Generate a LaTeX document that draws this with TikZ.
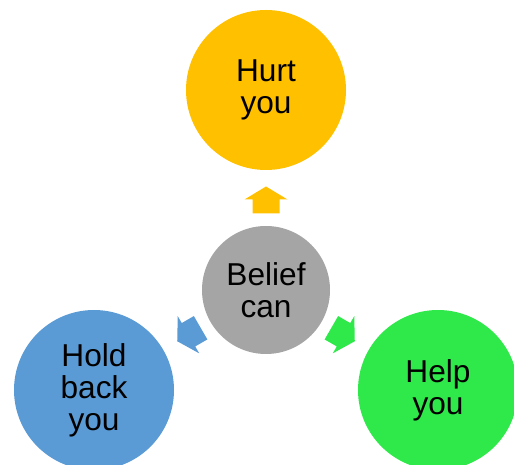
\documentclass[tikz,border=0pt]{standalone}
\usepackage{fontspec}
\setmainfont{Liberation Sans}
\usetikzlibrary{positioning}

\definecolor{hurtcol}{HTML}{FFC000}
\definecolor{beliefcol}{HTML}{A5A5A5}
\definecolor{holdcol}{HTML}{5B9BD5}
\definecolor{helpcol}{HTML}{2FE84A}

% block arrow, drawn pointing along +x round the origin
\newcommand{\blockarrow}[1]{%
  \fill[#1] (-0.27,-0.27)--(0.01,-0.27)--(0.01,-0.43)--(0.27,0)
            --(0.01,0.43)--(0.01,0.27)--(-0.27,0.27)--cycle;}

\tikzset{
  bubble/.style={circle, inner sep=0pt, align=center,
    font=\fontsize{18}{18.3}\selectfont},
  big/.style={bubble, minimum size=3.2cm},
}

\begin{document}
\begin{tikzpicture}
\clip (0,0) rectangle (10.28,9.3);
\useasboundingbox (0,0) rectangle (10.28,9.3);

\node[bubble, fill=beliefcol, minimum size=2.56cm] (belief) at (5.32,3.5) {Belief\\can};
\node[big, fill=hurtcol] (hurt) at (5.32,7.5) {Hurt\\you};
\node[big, fill=holdcol] (hold) at (1.88,1.5) {Hold\\back\\you};
\node[big, fill=helpcol] (help) at (8.76,1.5) {Help\\you};

% arrows out of the centre
\begin{scope}[shift={(belief.center)}, rotate=90, xshift=1.8cm]
  \blockarrow{hurtcol}
\end{scope}
\begin{scope}[shift={(belief.center)}, rotate=210, xshift=1.78cm]
  \blockarrow{holdcol}
\end{scope}
\begin{scope}[shift={(belief.center)}, rotate=-30, xshift=1.78cm]
  \blockarrow{helpcol}
\end{scope}
\end{tikzpicture}
\end{document}
